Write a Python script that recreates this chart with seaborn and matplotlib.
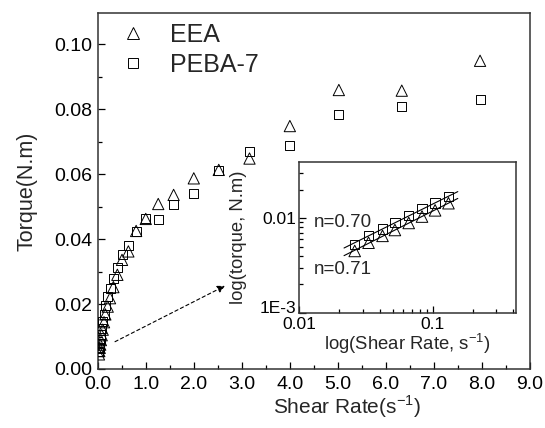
import numpy as np
import pandas as pd
import matplotlib
matplotlib.use("Agg")
import matplotlib.pyplot as plt
from matplotlib.lines import Line2D
from matplotlib.transforms import ScaledTranslation
from matplotlib.ticker import MultipleLocator, FormatStrFormatter, LogLocator, FixedFormatter, FixedLocator, NullFormatter
import seaborn as sns

sns.set_theme(style="ticks")
plt.rcParams["font.family"] = ["Liberation Sans", "DejaVu Sans"]
plt.rcParams["mathtext.fontset"] = "custom"
plt.rcParams["mathtext.rm"] = "Liberation Sans"

# Shear rate (1/s) and torque (N.m) for both materials
shear_rate = [0.026, 0.033, 0.042, 0.052, 0.066, 0.083, 0.104, 0.131,
              0.159, 0.208, 0.256, 0.326, 0.409, 0.506, 0.638, 0.80,
              1.0, 1.26, 1.58, 2.0, 2.52, 3.16, 4.0, 5.02, 6.33, 7.96]
torque_eea = [0.0045, 0.0055, 0.0065, 0.0075, 0.0089, 0.0104, 0.0121, 0.0144,
              0.0168, 0.0192, 0.0218, 0.0252, 0.0290, 0.0336, 0.0362, 0.0425,
              0.0462, 0.0508, 0.0536, 0.0587, 0.0613, 0.0648, 0.0748, 0.0859, 0.0857, 0.0949]
torque_peba = [0.0053, 0.0066, 0.0077, 0.0090, 0.0107, 0.0126, 0.0145, 0.0168,
               0.0194, 0.0223, 0.0249, 0.0280, 0.0313, 0.0354, 0.0379, 0.0423,
               0.0462, 0.0459, 0.0505, 0.0539, 0.0610, 0.0669, 0.0689, 0.0784, 0.0808, 0.0831]

# Points shown in the log-log inset (low shear region)
n_inset = 8
flow_index = {"PEBA-7": 0.70, "EEA": 0.71}

df = pd.DataFrame({"rate": shear_rate, "EEA": torque_eea, "PEBA-7": torque_peba})

fig = plt.figure(figsize=(5.45, 4.28), dpi=100)
ax = fig.add_axes([0.1793, 0.1379, 0.9725 - 0.1793, 0.9703 - 0.1379])

mk = {"EEA": ("^", 66), "PEBA-7": ("s", 42)}
for name in ["EEA", "PEBA-7"]:
    m, s = mk[name]
    sns.scatterplot(data=df, x="rate", y=name, marker=m, s=s, ax=ax,
                    facecolor="none", edgecolor="black", linewidth=0.7, zorder=3)

ax.set_xlim(0, 9.0)
ax.set_ylim(0, 0.1097)
ax.xaxis.set_major_locator(MultipleLocator(1.0))
ax.xaxis.set_minor_locator(MultipleLocator(0.5))
ax.xaxis.set_major_formatter(FormatStrFormatter("%.1f"))
ax.yaxis.set_major_locator(MultipleLocator(0.02))
ax.yaxis.set_minor_locator(MultipleLocator(0.01))
ax.yaxis.set_major_formatter(FormatStrFormatter("%.2f"))
ax.tick_params(which="both", direction="in", colors="black", labelsize=14)
ax.tick_params(axis="x", pad=5)
ax.tick_params(axis="y", pad=4)
ax.tick_params(which="major", length=5, width=0.9)
ax.tick_params(which="minor", length=3, width=0.9)
for sp in ax.spines.values():
    sp.set_linewidth(1.1)
    sp.set_color("#333333")
ax.set_xlabel("Shear Rate(s$^{\\mathregular{-1}}$)", fontsize=15)
ax.set_ylabel("Torque(N.m)", fontsize=15.5)
ax.xaxis.set_label_coords(0.577, -0.068)
ax.yaxis.set_label_coords(-0.140, 0.5)

handles = [Line2D([], [], marker="^", ls="", mfc="none", mec="black", ms=8.6, mew=0.7),
           Line2D([], [], marker="s", ls="", mfc="none", mec="black", ms=7.0, mew=0.7)]
ax.legend(handles, ["EEA", "PEBA-7"], loc="upper left", frameon=False, fontsize=18,
          handletextpad=0.5, borderaxespad=0, borderpad=0.4, labelspacing=0.25,
          bbox_to_anchor=(0.0, 1.0))

ax.annotate("", xy=(2.65, 0.0256), xytext=(0.36, 0.0084),
            arrowprops=dict(arrowstyle="-|>", linestyle=(0, (3, 2.5)), color="black",
                            lw=0.8, mutation_scale=11, shrinkA=0, shrinkB=0))

# Inset: log-log view of the low-shear region with power-law fits
ins = fig.add_axes([0.5492, 0.2694, 0.9468 - 0.5492, 0.6208 - 0.2694])
low = df.iloc[:n_inset]
for name in ["EEA", "PEBA-7"]:
    m, s = mk[name]
    sns.scatterplot(data=low, x="rate", y=name, marker=m, s=s * 1.05, ax=ins,
                    facecolor="none", edgecolor="black", linewidth=0.7, zorder=3)
    lx = np.log10(low["rate"].values)
    ly = np.log10(low[name].values)
    n = flow_index[name]
    b = ly.mean() - n * lx.mean()
    xs = np.array([lx.min() - 0.08, lx.max() + 0.07])
    ins.plot(10 ** xs, 10 ** (b + n * xs), color="black", lw=0.8, zorder=2)

ins.set_xscale("log")
ins.set_yscale("log")
ins.set_xlim(0.01, 0.42)
ins.set_ylim(0.001, 0.039)
ins.xaxis.set_major_locator(FixedLocator([0.01, 0.1]))
ins.xaxis.set_major_formatter(FixedFormatter(["0.01", "0.1"]))
ins.xaxis.set_minor_locator(LogLocator(base=10, subs=np.arange(2, 10)))
ins.xaxis.set_minor_formatter(NullFormatter())
ins.yaxis.set_major_locator(FixedLocator([0.001, 0.01]))
ins.yaxis.set_major_formatter(FixedFormatter(["1E-3", "0.01"]))
ins.yaxis.set_minor_locator(LogLocator(base=10, subs=np.arange(2, 10)))
ins.yaxis.set_minor_formatter(NullFormatter())
ins.tick_params(which="both", direction="in", colors="black", labelsize=12.5)
ins.tick_params(axis="x", pad=3)
ins.tick_params(axis="y", pad=2)
ins.tick_params(which="major", length=5, width=0.9)
ins.tick_params(which="minor", length=3, width=0.9)
for sp in ins.spines.values():
    sp.set_linewidth(1.1)
    sp.set_color("#333333")

# lift the corner label a little so it clears the x tick label below it
corner = ins.yaxis.get_major_ticks()[0].label1
corner.set_transform(corner.get_transform() + ScaledTranslation(0, 4 / 72, fig.dpi_scale_trans))

ins.set_xlabel("log(Shear Rate, s$^{\\mathregular{-1}}$)", fontsize=13.3, labelpad=0)
ins.set_ylabel("log(torque, N.m)", fontsize=13.3)
ins.yaxis.set_label_coords(-0.241, 0.5)
ins.text(0.0129, 0.0090, "n=0.70", fontsize=13.5, va="center", ha="left")
ins.text(0.0129, 0.00288, "n=0.71", fontsize=13.5, va="center", ha="left")

fig.savefig("out.png", dpi=100)
